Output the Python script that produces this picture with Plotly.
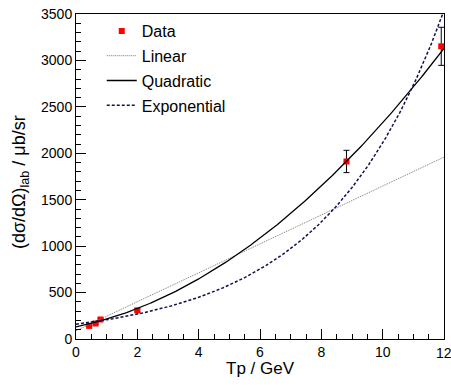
import numpy as np
import plotly.graph_objects as go

# Data points
tp = [0.43, 0.64, 0.80, 2.0, 8.82, 11.91]
xsec = [141, 167, 210, 308, 1912, 3152]
xsec_err = [8, 8, 10, 15, 120, 205]

# Fit parameters
lin_p = [90.0, 155.7]            # a + b*x
quad_p = [130.0, 69.0, 15.08]    # a + b*x + c*x^2
exp_p = [160.0, 0.258]           # a*exp(b*x)

x_ticks = [0, 2, 4, 6, 8, 10, 12]
y_ticks = [0, 500, 1000, 1500, 2000, 2500, 3000, 3500]

xf = np.linspace(0, 12, 241)
lin_y = lin_p[0] + lin_p[1] * xf
quad_y = quad_p[0] + quad_p[1] * xf + quad_p[2] * xf ** 2
exp_y = exp_p[0] * np.exp(exp_p[1] * xf)

fig = go.Figure()
fig.add_trace(go.Scatter(x=tp, y=xsec, mode="markers", name="Data",
                         marker=dict(symbol="square", size=6, color="#ff0000"),
                         error_y=dict(type="data", array=xsec_err, color="black",
                                      thickness=1, width=3),
                         legendgroup="a"))
fig.add_trace(go.Scatter(x=xf, y=lin_y, mode="lines", name="Linear",
                         line=dict(color="#777777", width=1, dash="1px,1px"),
                         legendgroup="b"))
fig.add_trace(go.Scatter(x=xf, y=quad_y, mode="lines", name="Quadratic",
                         line=dict(color="black", width=1.3),
                         legendgroup="c"))
fig.add_trace(go.Scatter(x=xf, y=exp_y, mode="lines", name="Exponential",
                         line=dict(color="#101050", width=1.5, dash="3px,2px"),
                         legendgroup="d"))

font = "Liberation Sans, Arial, sans-serif"
fig.update_layout(
    width=451, height=385,
    margin=dict(l=76, r=6, t=10, b=46),
    paper_bgcolor="white", plot_bgcolor="white",
    font=dict(family=font, size=14, color="black"),
    showlegend=True,
    legend=dict(x=0.07, y=1.0, xanchor="left", yanchor="top",
                bgcolor="rgba(0,0,0,0)", font=dict(size=16, family=font),
                tracegroupgap=1, itemwidth=30),
    xaxis=dict(range=[0, 12], tickvals=x_ticks[:-1], ticktext=[str(v) for v in x_ticks[:-1]],
               ticks="inside", ticklen=10, tickcolor="black", showline=True,
               linecolor="black", linewidth=1, mirror=True, showgrid=False,
               zeroline=False, tickfont=dict(size=14),
               minor=dict(dtick=0.5, ticks="inside", ticklen=5, tickcolor="black",
                          showgrid=False)),
    yaxis=dict(range=[0, 3500], tickvals=y_ticks, ticktext=[str(v) for v in y_ticks],
               ticks="inside", ticklen=10, tickcolor="black", showline=True,
               linecolor="black", linewidth=1, mirror=True, showgrid=False,
               zeroline=False, tickfont=dict(size=14),
               minor=dict(dtick=100, ticks="inside", ticklen=5, tickcolor="black",
                          showgrid=False)),
    annotations=[
        dict(text=str(x_ticks[-1]), xref="x", yref="paper", x=x_ticks[-1],
             y=-4 / 329, xanchor="center", yanchor="top",
             showarrow=False, font=dict(size=14, family=font)),
        dict(text="Tp / GeV", xref="paper", yref="paper", x=(261 - 76) / 369,
             y=(339 - 369) / 329, xanchor="center", yanchor="middle",
             showarrow=False, font=dict(size=17, family=font)),
        dict(text="(dσ/dΩ)<sub>lab</sub> / μb/sr", xref="paper", yref="paper",
             x=(21 - 76) / 369, y=(339 - 180) / 329, xanchor="center",
             yanchor="middle", textangle=-90, showarrow=False,
             font=dict(size=18, family=font)),
    ],
)

fig.write_html("out.html")
